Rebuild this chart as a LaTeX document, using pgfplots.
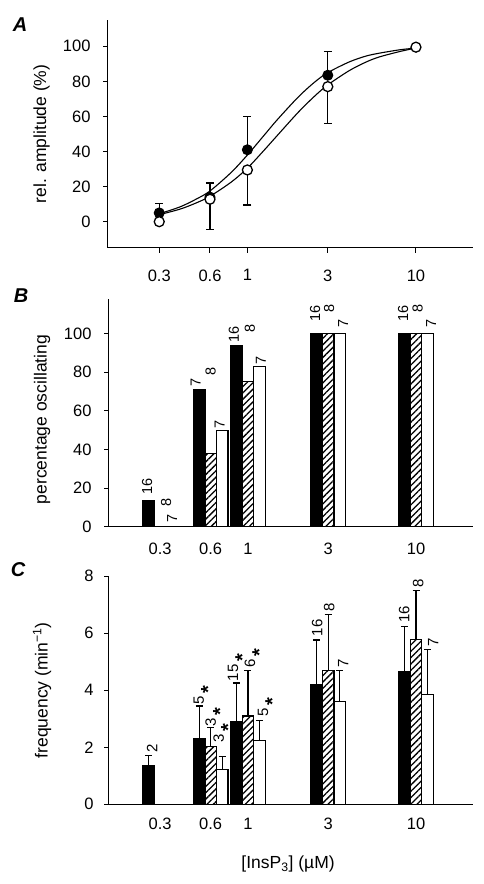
\documentclass[border=0pt]{standalone}
\usepackage{fontspec}
\setmainfont{Liberation Sans}
\usepackage{pgfplots}
\pgfplotsset{compat=1.18}
\usetikzlibrary{patterns.meta}
\newcommand{\labfont}{\fontsize{17.5}{18}\selectfont}
\pgfplotsset{
  panel/.style={
    scale only axis, width=364pt, height=228pt,
    xmin=0.149, xmax=21.8,
    axis x line*=bottom, axis y line*=left,
    axis line style={line width=1pt, -},
    tick style={line width=1pt, black},
    tick align=outside, major tick length=5pt,
    xtick={0.3,0.6,1,3,10}, xticklabels={0.3,0.6,1,3,10},
    xminorticks=false, yminorticks=false,
    tick label style={font=\fontsize{16.5}{16.5}\selectfont},
    /pgf/number format/assume math mode=true,
    clip=false,
  },
  eb/.style={error bars/.cd, y explicit, error bar style={line width=1.3pt, black},
    error mark options={rotate=90, mark size=#1, line width=1.3pt, black}},
  hbar/.style={pattern={Lines[angle=45,distance=4.5pt,line width=1.3pt]}, draw=black},
}
\newcommand{\blab}[4]{\node[xshift=#3pt, rotate=90, anchor=west, inner sep=0.5pt, font=\fontsize{14.5}{15}\selectfont] at (axis cs:#1,#2) {#4};}
\newcommand{\clab}[4]{\node[xshift=#3pt, rotate=90, anchor=west, inner sep=0.5pt, font=\fontsize{15}{15}\selectfont] at (axis cs:#1,#2) {#4};}
\newcommand{\st}{\,\smash{\raisebox{-11pt}{\fontsize{20}{20}\selectfont\bfseries *}}}
\begin{document}
\begin{tikzpicture}
\useasboundingbox (0pt,0pt) rectangle (483pt,884pt);
\node[font=\fontsize{20}{20}\selectfont\bfseries\itshape] at (20pt,859pt) {A};
\node[font=\fontsize{20}{20}\selectfont\bfseries\itshape] at (21pt,588pt) {B};
\node[font=\fontsize{20}{20}\selectfont\bfseries\itshape] at (18pt,314pt) {C};
% ---------------- A
\begin{semilogxaxis}[panel, at={(108pt,636pt)}, anchor=south west, width=365pt,
  ymin=-15, ymax=115, ytick={0,20,...,100},
  xticklabel style={yshift=-13pt}, yticklabel style={xshift=-9pt},
  every axis y label/.style={at={(axis description cs:-0.182,0.5)}, rotate=90, anchor=center, font=\labfont},
  ylabel={rel. amplitude (\%)}]
\addplot[smooth, line width=1.1pt, no marks] coordinates {
(0.3,4.5) (0.4,8.5) (0.5,13) (0.6,17.5) (0.8,28) (1,38) (1.25,49) (1.5,58) (2,71) (2.5,79.5) (3,85) (4,91) (5,94.3) (6,96) (8,98) (10,99)};
\addplot[smooth, line width=1.1pt, no marks] coordinates {
(0.3,4.0) (0.4,7.2) (0.5,10.8) (0.6,14.5) (0.8,22.5) (1,30.5) (1.25,40.5) (1.5,49) (2,62.3) (2.5,71.5) (3,78) (4,86) (5,90.8) (6,93.8) (8,97) (10,99)};
\addplot[only marks, mark=*, mark size=5pt, mark options={fill=black, draw=black, line width=1pt},
  error bars/y dir=plus, eb=4pt]
  coordinates {(0.3,5) +- (0,5.5) (0.6,14) +- (0,8) (1,41) +- (0,19) (3,83.5) +- (0,13.5)};
\addplot[only marks, mark=*, mark size=5pt, mark options={fill=white, draw=black, line width=1.3pt},
  error bars/y dir=minus, eb=4pt]
  coordinates {(0.6,12.8) +- (0,17.2) (1,29.5) +- (0,20) (3,77) +- (0,21)};
\addplot[only marks, mark=*, mark size=5pt, mark options={fill=white, draw=black, line width=1.3pt}]
  coordinates {(0.3,0) (10,99.5)};
\end{semilogxaxis}
% ---------------- B
\begin{semilogxaxis}[panel, at={(109pt,357.3pt)}, anchor=south west,
  ybar, ymin=0, ymax=118, ytick={0,20,...,100},
  major x tick style={draw=none},
  xticklabel style={yshift=-8pt}, yticklabel style={xshift=-9pt},
  every axis y label/.style={at={(axis description cs:-0.184,0.47)}, rotate=90, anchor=center, font=\labfont},
  ylabel={percentage oscillating}]
\addplot[bar width=11.5pt, bar shift=-11.5pt, fill=black, draw=black, line width=1.1pt]
  coordinates {(0.3,13.4) (0.6,71) (1,94) (3,100) (10,100)};
\addplot[bar width=11.5pt, bar shift=0pt, hbar, line width=1.1pt]
  coordinates {(0.6,38) (1,75) (3,100) (10,100)};
\addplot[bar width=11.5pt, bar shift=11.5pt, fill=white, draw=black, line width=1.1pt]
  coordinates {(0.6,50) (1,83) (3,100) (10,100)};
\blab{0.3}{16.4}{-13}{16}
\blab{0.3}{10.3}{6}{8}
\blab{0.3}{1.9}{12}{7}
\blab{0.6}{72.4}{-15}{7}
\blab{0.6}{78}{0}{8}
\blab{0.6}{50.5}{9}{7}
\blab{1}{95}{-14}{16}
\blab{1}{100}{2}{8}
\blab{1}{83.5}{13}{7}
\blab{3}{106}{-13}{16}
\blab{3}{110.5}{1}{8}
\blab{3}{102.7}{15}{7}
\blab{10}{106}{-13}{16}
\blab{10}{110.5}{1.5}{8}
\blab{10}{102.7}{15}{7}
\end{semilogxaxis}
% ---------------- C
\begin{semilogxaxis}[panel, at={(109pt,79.7pt)}, anchor=south west,
  ybar, ymin=0, ymax=8, ytick={0,2,...,8},
  major x tick style={draw=none},
  xticklabel style={yshift=-5pt}, yticklabel style={xshift=-7pt},
  every axis y label/.style={at={(axis description cs:-0.184,0.5)}, rotate=90, anchor=center, font=\labfont},
  ylabel={frequency (min\textsuperscript{−1})},
  xlabel={[InsP\textsubscript{3}] (µM)},
  every axis x label/.style={at={(axis description cs:0.492,-0.2615)}, anchor=center, font=\labfont}]
\addplot[bar width=11.5pt, bar shift=-11.5pt, fill=black, draw=black, line width=1.1pt,
  error bars/y dir=plus, eb=3.5pt]
  table[x=x, y=y, y error=e] {
x y e
0.3 1.35 0.37
0.6 2.31 1.14
1 2.9 1.36
3 4.21 1.55
10 4.67 1.58
};
\addplot[bar width=11.5pt, bar shift=0pt, hbar, line width=1.1pt,
  error bars/y dir=plus, eb=3.5pt]
  table[x=x, y=y, y error=e] {
x y e
0.6 2.02 0.68
1 3.1 1.6
3 4.68 1.99
10 5.78 1.72
};
\addplot[bar width=11.5pt, bar shift=11.5pt, fill=white, draw=black, line width=1.1pt,
  error bars/y dir=plus, eb=3.5pt]
  table[x=x, y=y, y error=e] {
x y e
0.6 1.23 0.44
1 2.25 0.7
3 3.6 1.1
10 3.86 1.57
};
\clab{0.3}{1.79}{-8}{2}
\clab{0.6}{3.48}{-12}{5\st}
\clab{0.6}{2.72}{0}{3\st}
\clab{0.6}{2.14}{8}{3\st}
\clab{1}{4.3}{-15}{15\st}
\clab{1}{4.77}{2}{6\st}
\clab{1}{3.07}{15}{5\st}
\clab{3}{5.87}{-11}{16}
\clab{3}{6.75}{1}{8}
\clab{3}{4.77}{15}{7}
\clab{10}{6.34}{-12}{16}
\clab{10}{7.57}{2}{8}
\clab{10}{5.52}{17}{7}
\end{semilogxaxis}
\end{tikzpicture}
\end{document}
